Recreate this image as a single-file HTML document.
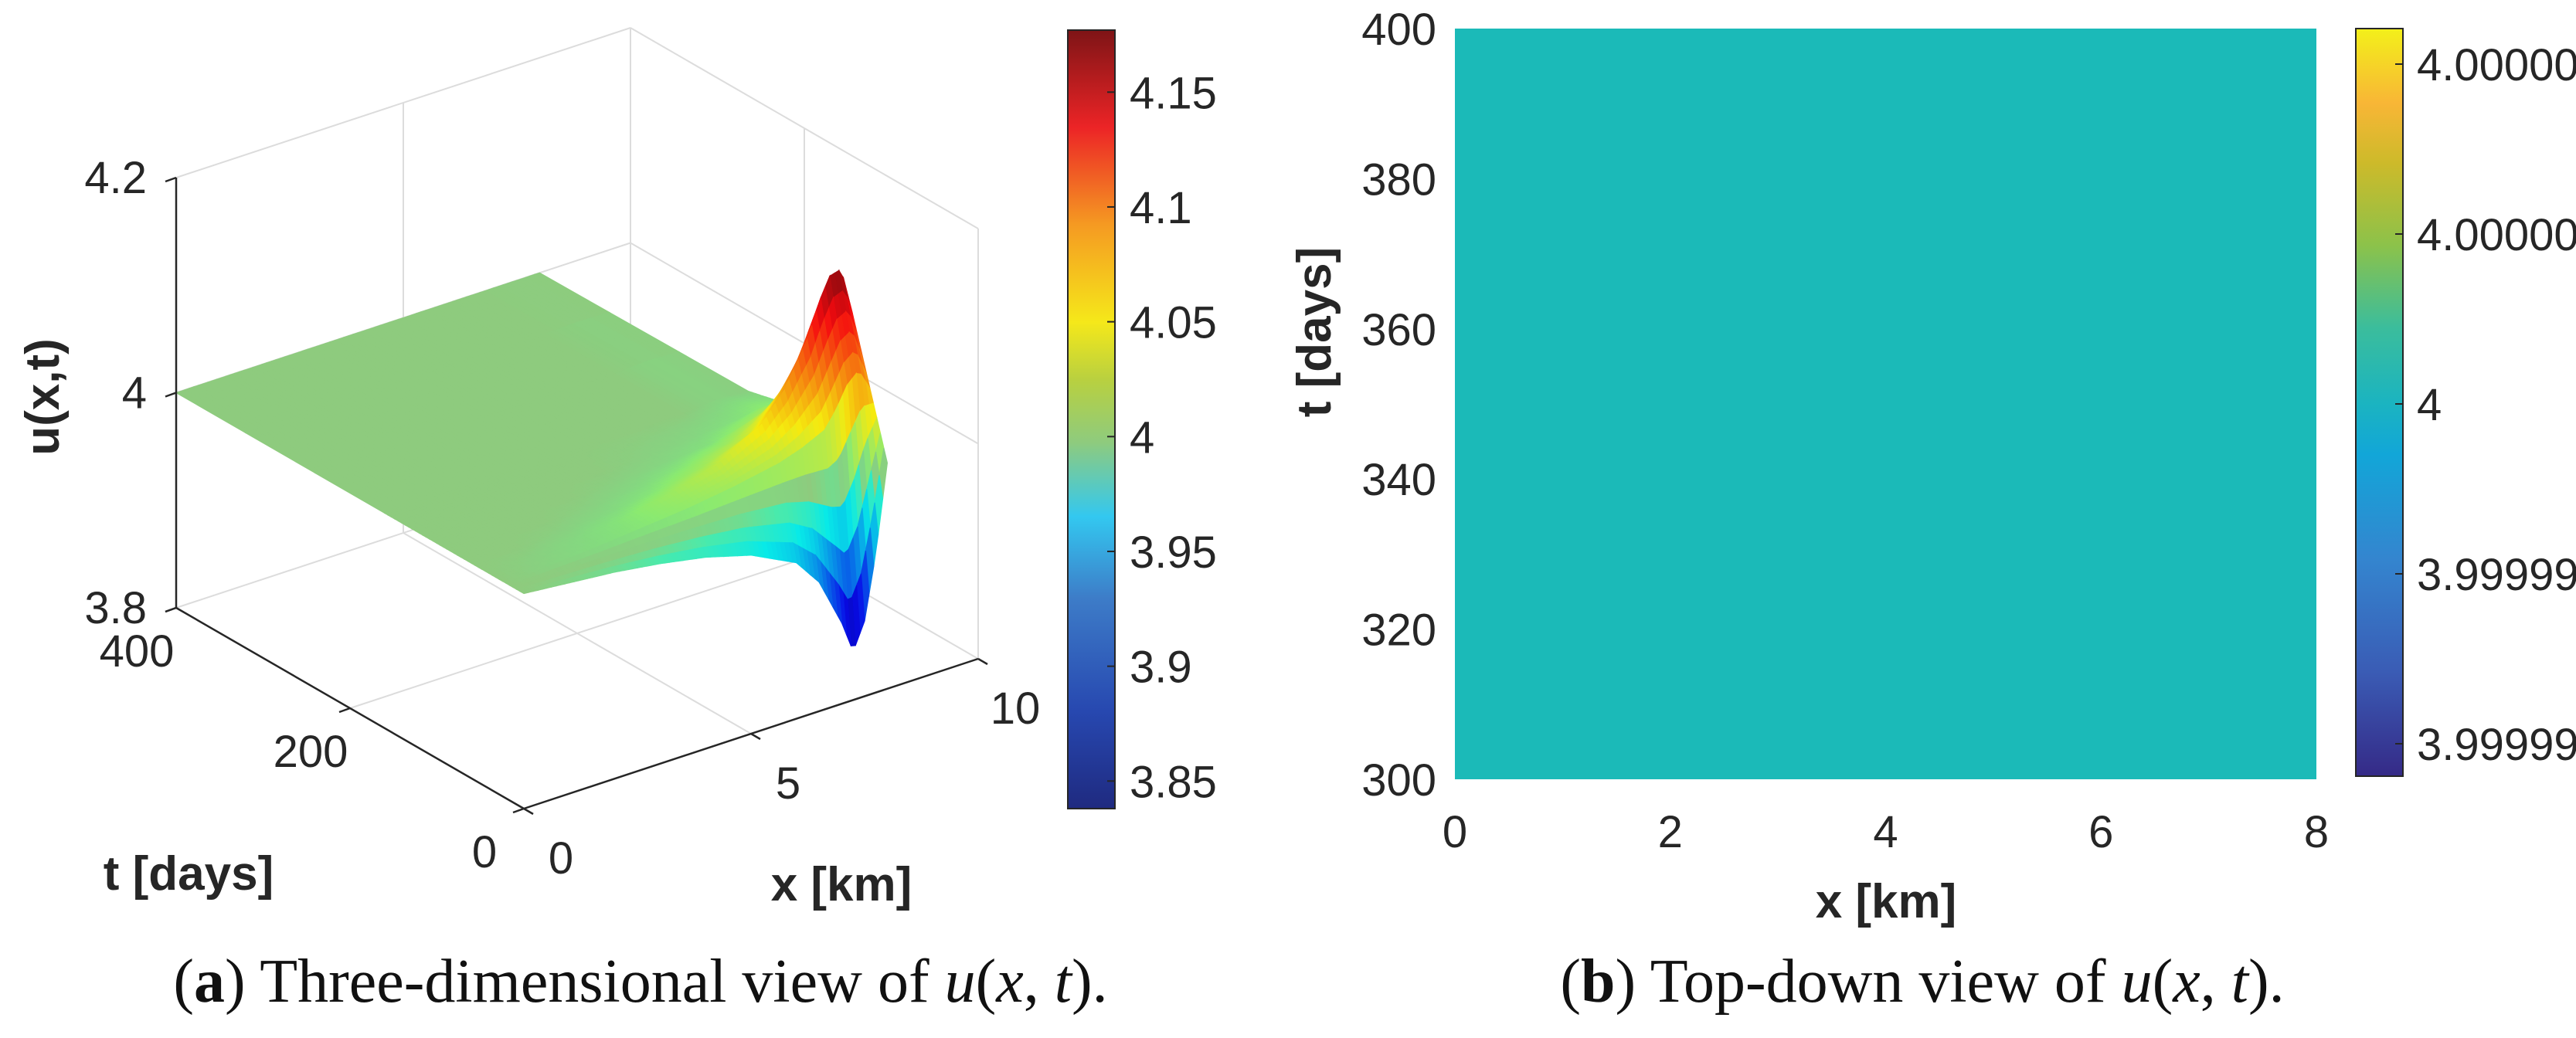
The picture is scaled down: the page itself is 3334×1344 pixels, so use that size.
<!DOCTYPE html>
<html><head><meta charset="utf-8"><style>
html,body{margin:0;padding:0;background:#fff;}
svg{display:block;}
text{font-family:"Liberation Sans",Arial,sans-serif;fill:#262626;}
.tk{font-size:58px;}
.lab{font-size:62px;font-weight:bold;}
.cap{font-family:"Liberation Serif",serif;font-size:80px;fill:#111;}
</style></head><body>
<svg id="fig" width="3334" height="1344" viewBox="0 0 3334 1344" xmlns="http://www.w3.org/2000/svg">
<defs>
<linearGradient id="jetG" x1="0" y1="1" x2="0" y2="0">
<stop offset="0" stop-color="#1f2a80"/><stop offset="0.125" stop-color="#2748b0"/><stop offset="0.27" stop-color="#3d7cc8"/><stop offset="0.375" stop-color="#33c8f0"/><stop offset="0.47" stop-color="#8ecb7e"/><stop offset="0.55" stop-color="#b8d040"/><stop offset="0.625" stop-color="#f5e81a"/><stop offset="0.75" stop-color="#f59a22"/><stop offset="0.875" stop-color="#ec2426"/><stop offset="1" stop-color="#7e1416"/>
</linearGradient>
<linearGradient id="parG" x1="0" y1="1" x2="0" y2="0">
<stop offset="0" stop-color="#352A87"/><stop offset="0.14" stop-color="#3a5cb5"/><stop offset="0.29" stop-color="#3485cf"/><stop offset="0.43" stop-color="#12a6d8"/><stop offset="0.5" stop-color="#1bb4c0"/><stop offset="0.6" stop-color="#3bbd9c"/><stop offset="0.71" stop-color="#8cc24a"/><stop offset="0.82" stop-color="#cdba2a"/><stop offset="0.9" stop-color="#f8b636"/><stop offset="1" stop-color="#f3f01a"/>
</linearGradient>
</defs>
<g id="left"></g>
<g id="right"></g>
<text class="cap" x="829" y="1297" text-anchor="middle">(<tspan font-weight="bold">a</tspan>) Three-dimensional view of <tspan font-style="italic">u</tspan>(<tspan font-style="italic">x</tspan>, <tspan font-style="italic">t</tspan>).</text>
<text class="cap" x="2488" y="1297" text-anchor="middle">(<tspan font-weight="bold">b</tspan>) Top-down view of <tspan font-style="italic">u</tspan>(<tspan font-style="italic">x</tspan>, <tspan font-style="italic">t</tspan>).</text>
</svg>
<script>
// ---- data: surface u(x,t) deviation from 4 ----
const xs = [0,1,2,3,4,5,6,6.5,7,7.25,7.5,7.75,8];
const ts = [0,20,40,60,80,100,120,160,400];
const dev_t0   = [0,-0.004,-0.008,-0.014,-0.022,-0.034,-0.055,-0.08,-0.125,-0.155,-0.13,-0.07,0.01];
const dev_t20  = [0,0.003,0.006,0.01,0.014,0.02,0.028,0.035,0.045,0.06,0.08,0.09,0.07];
const dev_t40  = [0,0.002,0.005,0.01,0.018,0.03,0.055,0.08,0.12,0.15,0.172,0.175,0.13];
const dev_t60  = [0,0,0.002,0.005,0.01,0.018,0.032,0.05,0.075,0.095,0.11,0.105,0.08];
const dev_t80  = [0,0,0,0.002,0.005,0.01,0.018,0.028,0.04,0.05,0.055,0.052,0.04];
const dev_t100 = [0,0,0,0,0.002,0.004,0.008,0.013,0.019,0.023,0.026,0.025,0.02];
const dev_t120 = [0,0,0,0,0,0.002,0.004,0.006,0.008,0.01,0.012,0.012,0.01];
const dev_t160 = [0,0,0,0,0,0,0,0,0.002,0.003,0.003,0.002,0.002];
const dev_t400 = [0,0,0,0,0,0,0,0,0,0,0,0,0];
const baseLevel = 4;
const zTicks = [3.8,4,4.2], zTickLabels = ["3.8","4","4.2"];
const tTicks = [0,200,400], tTickLabels = ["0","200","400"];
const xTicks = [0,5,10], xTickLabels = ["0","5","10"];
const cbTicksL = [3.85,3.9,3.95,4,4.05,4.1,4.15], cbLabelsL = ["3.85","3.9","3.95","4","4.05","4.1","4.15"];
const cbRangeL = [3.838,4.177];
// right plot
const rxTicks = [0,2,4,6,8], rxTickLabels = ["0","2","4","6","8"];
const rtTicks = [300,320,340,360,380,400], rtTickLabels = ["300","320","340","360","380","400"];
const cbTicksR = [0,1,2,3,4], cbLabelsR = ["3.99999","3.99999","4","4.00000","4.00000"];

const NS="http://www.w3.org/2000/svg";
function mk(tag,attrs,parent){const e=document.createElementNS(NS,tag);for(const k in attrs)e.setAttribute(k,attrs[k]);parent.appendChild(e);return e;}
const devRows=[dev_t0,dev_t20,dev_t40,dev_t60,dev_t80,dev_t100,dev_t120,dev_t160,dev_t400];

// ---- left 3D axes ----
const L=document.getElementById('left');
const O=[678,1047];
function P(x,t,z){ // projection
  return [O[0]+58.8*x-1.125*t, O[1]-19.4*x-0.65*t-(z-3.8)*1392.5];
}
function line(a,b,stroke,w,name){const e=mk('line',{x1:a[0],y1:a[1],x2:b[0],y2:b[1],stroke:stroke,'stroke-width':w},L);

return e;}
const G="#dcdcdc";
line(P(0,400,4.2),P(10,400,4.2),G,2,'box-edge');
line(P(10,400,4.2),P(10,0,4.2),G,2,'box-edge');
line(P(10,400,3.8),P(10,400,4.2),G,2,'box-edge');
line(P(10,0,3.8),P(10,0,4.2),G,2,'box-edge');
line(P(0,400,3.8),P(10,400,3.8),G,2,'box-edge');
line(P(10,400,3.8),P(10,0,3.8),G,2,'box-edge');
line(P(0,400,4),P(10,400,4),G,2,'grid-line');
line(P(10,400,4),P(10,0,4),G,2,'grid-line');
line(P(5,400,3.8),P(5,400,4.2),G,2,'grid-line');
line(P(10,200,3.8),P(10,200,4.2),G,2,'grid-line');
line(P(5,0,3.8),P(5,400,3.8),G,2,'grid-line');
line(P(0,200,3.8),P(10,200,3.8),G,2,'grid-line');

function interp1(arr,v){let i=0;while(i<arr.length-2&&v>arr[i+1])i++;const f=(v-arr[i])/(arr[i+1]-arr[i]);return [i,Math.max(0,Math.min(1,f))];}
function U(x,t){const [i,fx]=interp1(xs,x);const [j,ft]=interp1(ts,t);
 const a=devRows[j][i],b=devRows[j][i+1],c=devRows[j+1][i],d=devRows[j+1][i+1];
 return baseLevel+(a*(1-fx)+b*fx)*(1-ft)+(c*(1-fx)+d*fx)*ft;}
function jet(v){const c=x=>Math.max(0,Math.min(1,x));const r=c(Math.min(4*v-1.5,-4*v+4.5)),g=c(Math.min(4*v-0.5,-4*v+3.5)),b=c(Math.min(4*v+0.5,-4*v+2.5));return [r*255,g*255,b*255];}
const plane=[142,203,126];
function col(u){const d=u-baseLevel;const v=(u-cbRangeL[0])/(cbRangeL[1]-cbRangeL[0]);let j=jet(v);
 j=[j[0]*0.93+8,j[1]*0.88+10,j[2]*0.85+15];
 const w=Math.min(1,Math.abs(d)/0.012);return 'rgb('+j.map((c,k)=>Math.round(plane[k]*(1-w)+c*w)).join(',')+')';}
const SF=mk('g',{},L);


const xf=[];for(let x=0;x<=8.0001;x+=0.1)xf.push(Math.round(x*10)/10);
const tf=[];for(let t=0;t<=160;t+=4)tf.push(t);tf.push(240,320,400);
const quads=[];
for(let i=0;i<xf.length-1;i++)for(let j=0;j<tf.length-1;j++){
 const x0=xf[i],x1=xf[i+1],t0=tf[j],t1=tf[j+1];
 const pts=[[x0,t0],[x1,t0],[x1,t1],[x0,t1]].map(p=>{const u=U(p[0],p[1]);return {u,s:P(p[0],p[1],u)};});
 const um=(pts[0].u+pts[1].u+pts[2].u+pts[3].u)/4;
 quads.push({depth:19.4*(x0+x1)/2+0.65*(t0+t1)/2,pts,um});
}
quads.sort((a,b)=>b.depth-a.depth);
for(const q of quads){const c=col(q.um);const e=mk('polygon',{points:q.pts.map(p=>p.s[0].toFixed(1)+','+p.s[1].toFixed(1)).join(' '),fill:c,stroke:c,'stroke-width':1.2},SF);

}

const A="#262626";
line(P(0,400,3.8),P(0,400,4.2),A,2.5,'z-axis');
line(P(0,0,3.8),P(0,400,3.8),A,2.5,'t-axis');
line(P(0,0,3.8),P(10,0,3.8),A,2.5,'x-axis');
zTicks.forEach((z,k)=>{const p=P(0,400,z);line(p,[p[0]-14,p[1]+5],A,2.5,'z-tick');
 const e=mk('text',{x:p[0]-38,y:p[1]+20,'text-anchor':'end',class:'tk'},L);e.textContent=zTickLabels[k];
 
 });
tTicks.forEach((t,k)=>{const p=P(0,t,3.8);line(p,[p[0]-14,p[1]+5],A,2.5,'t-tick');
 const e=mk('text',{x:p[0]-51,y:p[1]+76,'text-anchor':'middle',class:'tk'},L);e.textContent=tTickLabels[k];
 
 });
xTicks.forEach((x,k)=>{const p=P(x,0,3.8);line(p,[p[0]+12,p[1]+7],A,2.5,'x-tick');
 const e=mk('text',{x:p[0]+48,y:p[1]+84,'text-anchor':'middle',class:'tk'},L);e.textContent=xTickLabels[k];
 
 });
let e;
e=mk('text',{x:244,y:1152,'text-anchor':'middle',class:'lab'},L);e.textContent='t [days]';


e=mk('text',{x:1089,y:1166,'text-anchor':'middle',class:'lab'},L);e.textContent='x [km]';


e=mk('text',{x:0,y:0,'text-anchor':'middle',class:'lab',transform:'translate(76,514) rotate(-90)'},L);e.textContent='u(x,t)';


const cbL={x:1382,w:61,top:39,bot:1047};
e=mk('rect',{x:cbL.x,y:cbL.top,width:cbL.w,height:cbL.bot-cbL.top,fill:'url(#jetG)',stroke:'#262626','stroke-width':2},L);


cbTicksL.forEach((v,k)=>{const y=cbL.bot-(v-cbRangeL[0])/(cbRangeL[1]-cbRangeL[0])*(cbL.bot-cbL.top);
 line([cbL.x+cbL.w-10,y],[cbL.x+cbL.w,y],A,2,'colorbar-tick');
 const t=mk('text',{x:1462,y:y+21,class:'tk'},L);t.textContent=cbLabelsL[k];
 
 });

// ---- right plot ----
const R=document.getElementById('right');
const rx0=1883,rx1=2998,ry0=37,ry1=1009;
const sx=v=>rx0+(v-0)/(8-0)*(rx1-rx0), sy=v=>ry1-(v-300)/(400-300)*(ry1-ry0);
e=mk('rect',{x:sx(0),y:sy(400),width:sx(8)-sx(0),height:sy(300)-sy(400),fill:'#1bbab8'},R);


rtTicks.forEach((v,k)=>{const t=mk('text',{x:1859,y:sy(v)+21,'text-anchor':'end',class:'tk'},R);t.textContent=rtTickLabels[k];
 
 });
rxTicks.forEach((v,k)=>{const t=mk('text',{x:sx(v),y:1097,'text-anchor':'middle',class:'tk'},R);t.textContent=rxTickLabels[k];
 
 });
e=mk('text',{x:2441,y:1188,'text-anchor':'middle',class:'lab'},R);e.textContent='x [km]';


e=mk('text',{x:0,y:0,'text-anchor':'middle',class:'lab',transform:'translate(1722,430) rotate(-90)'},R);e.textContent='t [days]';


const cbR={x:3049,w:61,top:37,bot:1005};
e=mk('rect',{x:cbR.x,y:cbR.top,width:cbR.w,height:cbR.bot-cbR.top,fill:'url(#parG)',stroke:'#262626','stroke-width':2},R);


cbTicksR.forEach((v,k)=>{const y=963-v*(963-83)/4;
 const l=mk('line',{x1:cbR.x+cbR.w-10,y1:y,x2:cbR.x+cbR.w,y2:y,stroke:A,'stroke-width':2},R);
 
 
 const t=mk('text',{x:3128,y:y+21,class:'tk'},R);t.textContent=cbLabelsR[k];
 
 });
</script>
</body></html>
